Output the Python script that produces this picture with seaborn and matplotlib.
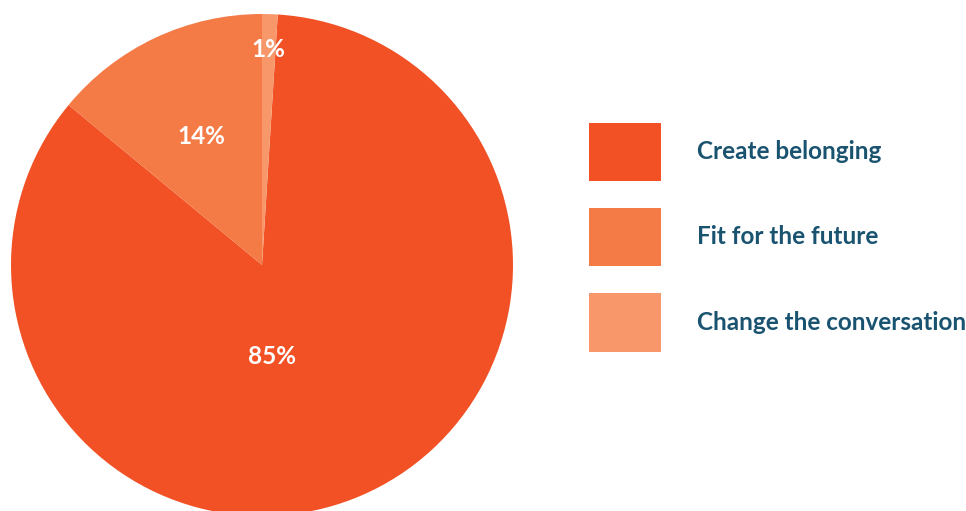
import matplotlib
matplotlib.use("Agg")
import matplotlib.pyplot as plt
from matplotlib.patches import Patch
import numpy as np
import seaborn as sns

# Share of responses per theme
categories = ["Create belonging", "Fit for the future", "Change the conversation"]
shares = [85, 14, 1]
labels = ["85%", "14%", "1%"]

colors = ["#F15124", "#F47A46", "#F7976A"]
text_color = "#195370"

sns.set_theme(style="white")
plt.rcParams["font.family"] = ["Lato", "DejaVu Sans"]

fig = plt.figure(figsize=(9.66, 5.11), dpi=100)
W, H = 966, 511

# Pie axes: centre (262, 265) px from top-left, radius 251 px
cx, cy, r = 262, 265, 251
ax = fig.add_axes([(cx - r) / W, (H - cy - r) / H, 2 * r / W, 2 * r / H])
ax.set_aspect("equal")
ax.axis("off")

start = 90 - 360 * shares[-1] / sum(shares)
wedges, _ = ax.pie(shares, colors=colors, startangle=start, counterclock=False,
                   radius=1, wedgeprops=dict(linewidth=0))
ax.set_xlim(-1, 1)
ax.set_ylim(-1, 1)

# Label placement (radial distance, angle override in degrees)
label_radius = [0.365, 0.566, 0.86]
label_angle = [-84.0, None, None]
for w, lab, rad, ang in zip(wedges, labels, label_radius, label_angle):
    mid = ang if ang is not None else (w.theta1 + w.theta2) / 2
    t = np.deg2rad(mid)
    ax.text(rad * np.cos(t), rad * np.sin(t), lab, ha="center", va="center",
            color="white", fontsize=17.5, fontweight="bold")

handles = [Patch(facecolor=c, edgecolor="none") for c in colors]
fs = 17.5
leg = fig.legend(handles, categories, loc="upper left",
                 bbox_to_anchor=(589 / W, 1 - 123 / H), frameon=False,
                 fontsize=fs, handlelength=2.96, handleheight=3.31,
                 handletextpad=1.48, labelspacing=1.11, borderpad=0,
                 borderaxespad=0)
for t in leg.get_texts():
    t.set_color(text_color)
    t.set_fontweight("bold")

fig.savefig("out.png", dpi=100)
